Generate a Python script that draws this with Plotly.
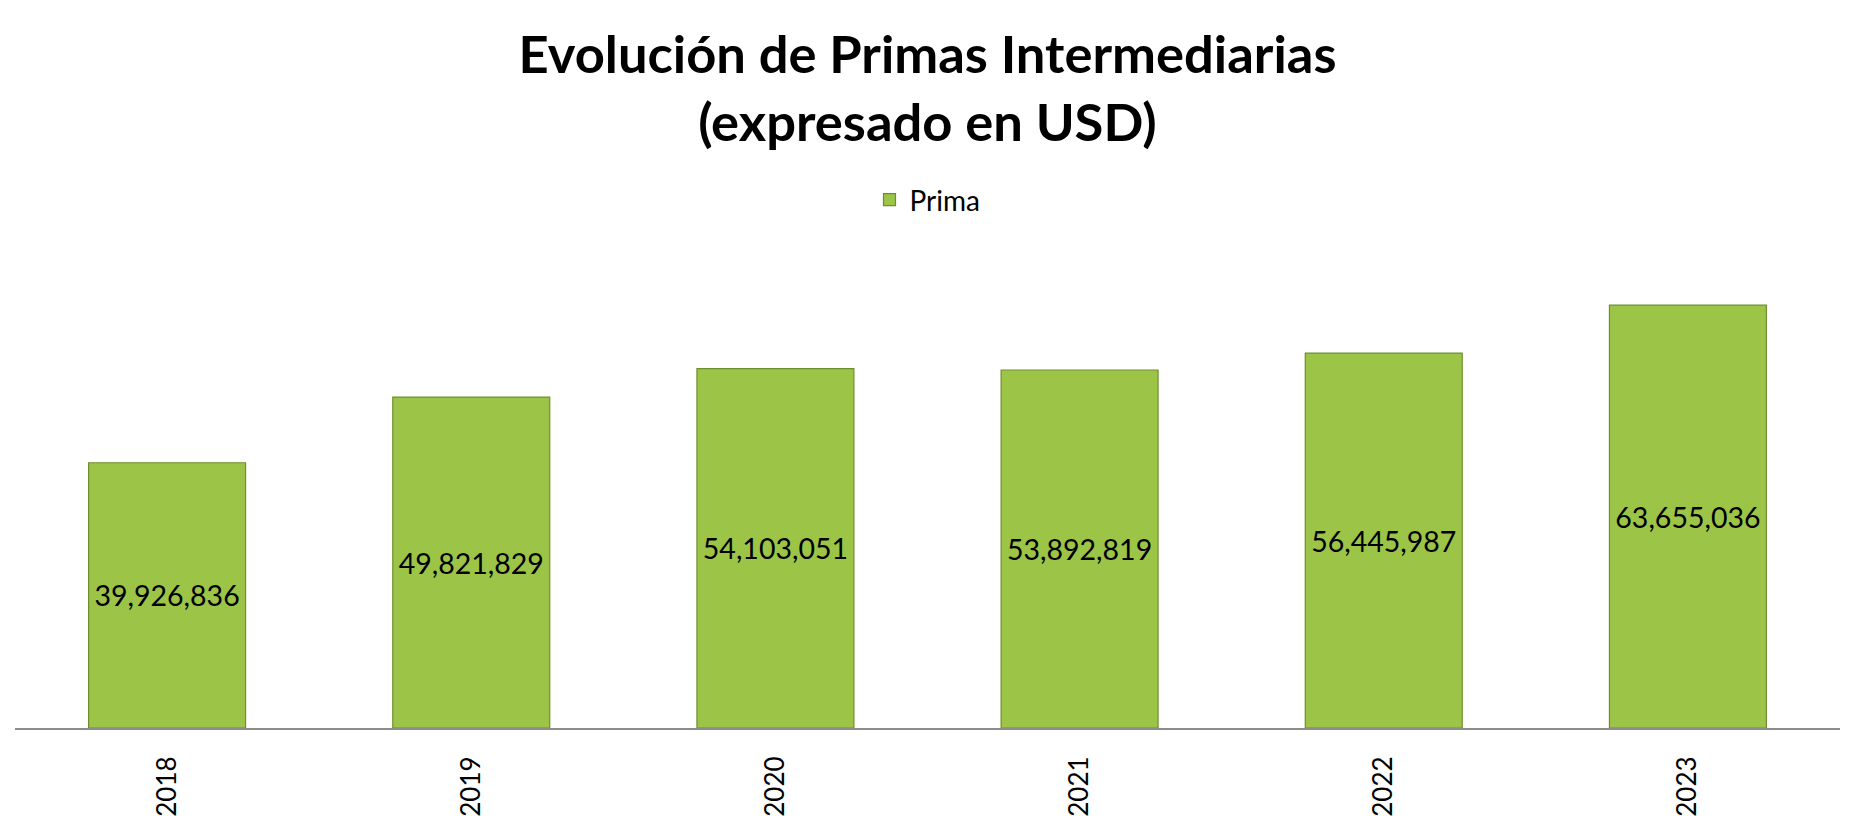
import plotly.graph_objects as go

years = ["2018", "2019", "2020", "2021", "2022", "2023"]
prima = [39926836, 49821829, 54103051, 53892819, 56445987, 63655036]

fig = go.Figure()
fig.add_trace(go.Bar(
    x=years,
    y=prima,
    name="Prima",
    marker=dict(color="#9cc548", line=dict(color="#6e8e2e", width=1.2)),
    texttemplate="%{y:,.0f}",
    textposition="inside",
    insidetextanchor="middle",
    textangle=0,
    textfont=dict(family="Lato", size=28.5, color="#000000"),
))

fig.update_layout(
    width=1859,
    height=829,
    paper_bgcolor="white",
    plot_bgcolor="white",
    margin=dict(l=15, r=19, t=263, b=94),
    bargap=0.484,
    title=dict(
        text="<b>Evolución de Primas Intermediarias<br>(expresado en USD)</b>",
        x=0.5,
        xref="paper",
        xanchor="center",
        y=0.912,
        yref="container",
        yanchor="top",
        font=dict(family="Lato", size=52.5, color="#000000"),
    ),
    showlegend=True,
    legend=dict(
        orientation="h",
        x=0.5,
        xanchor="center",
        y=1 - 200 / 829,
        yref="container",
        yanchor="middle",
        font=dict(family="Lato", size=28, color="#000000"),
    ),
    xaxis=dict(
        type="category",
        showline=True,
        linecolor="#8c8c8c",
        linewidth=2,
        showgrid=False,
        ticks="",
        tickangle=-90,
        ticklabelstandoff=16,
        tickfont=dict(family="Lato", size=26, color="#000000"),
    ),
    yaxis=dict(
        visible=False,
        range=[0, 70000000],
        showgrid=False,
        zeroline=False,
    ),
)

fig.write_html("out.html")
